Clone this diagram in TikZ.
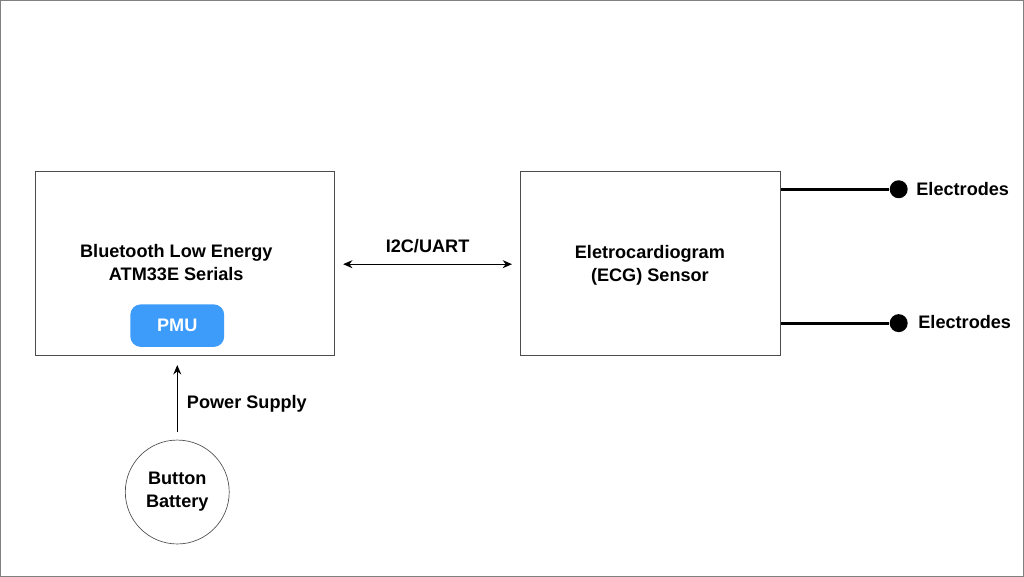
\documentclass[tikz,border=0pt]{standalone}
\usepackage{fontspec}
\setmainfont{Liberation Sans}
\usetikzlibrary{arrows.meta}
\definecolor{pmublue}{HTML}{3D9BFA}
\begin{document}
\begin{tikzpicture}[x=0.75pt,y=-0.75pt,
  lbl/.style={font=\bfseries\fontsize{13.6}{17.2}\selectfont,align=center},
  box/.style={draw=black!70,line width=0.5pt},
  conn/.style={line width=0.8pt,-{Stealth[length=7pt,width=6pt]}},
  wire/.style={line width=2.4pt}]
\draw[black!50,line width=0.6pt] (0,0) rectangle (1024,576);
\useasboundingbox (0,0) rectangle (1024,576);
\node[box,minimum width=224.25pt,minimum height=138pt] (ble) at (184.5,263) {};
\node[lbl] (bletxt) at (176,262.5) {Bluetooth Low Energy\\ATM33E Serials};
\node[fill=pmublue,rounded corners=8pt,minimum width=70.5pt,minimum height=32pt,text=white,lbl] (pmu) at (177,325.5) {PMU};
\node[box,minimum width=195.75pt,minimum height=138pt] (ecg) at (650.5,263) {};
\node[lbl] (ecgtxt) at (650,265.5) {Eletrocardiogram\\(ECG) Sensor};
\coordinate (a1) at (343,264);
\coordinate (a2) at (512,264);
\draw[line width=0.8pt,{Stealth[length=7pt,width=6pt]}-{Stealth[length=7pt,width=6pt]}] (a1) -- node[lbl,above=5pt] {I2C/UART} (a2);
\node[draw=black!70,line width=0.5pt,circle,minimum size=78pt,lbl] (bat) at (177,492) {Button\\Battery};
\coordinate (p0) at (177,432);
\coordinate (p1) at (177,365);
\draw[conn] (p0) -- (p1);
\node[lbl,anchor=west] (ps) at (182,404) {Power Supply};
\node[circle,fill=black,minimum size=13.5pt,inner sep=0] (e1) at (899,189) {};
\node[circle,fill=black,minimum size=13.5pt,inner sep=0] (e2) at (899,323) {};
\draw[wire] (ecg.east |- e1) -- (e1);
\draw[wire] (ecg.east |- e2) -- (e2);
\node[lbl,anchor=west] (l1) at (912,189) {Electrodes};
\node[lbl,anchor=west] (l2) at (914,322) {Electrodes};
\end{tikzpicture}
\end{document}
